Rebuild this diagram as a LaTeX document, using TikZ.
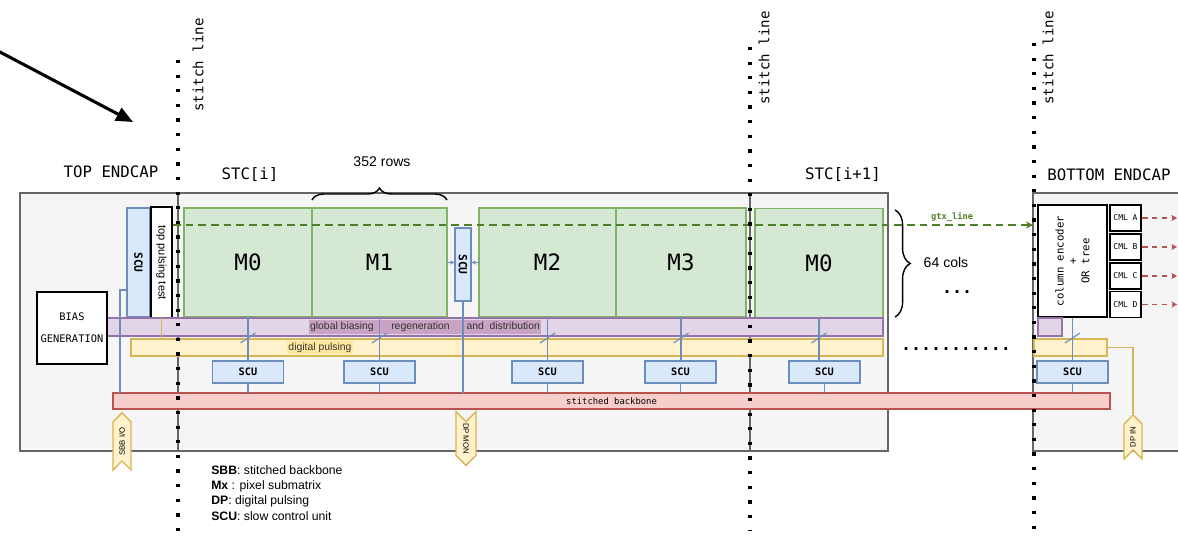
\documentclass[tikz,border=0pt]{standalone}
\usepackage{fontspec}
\setmainfont{Liberation Sans}
\setmonofont{DejaVu Sans Mono}
\usetikzlibrary{shapes,shapes.symbols,arrows.meta,positioning,calc,decorations.pathreplacing}

\definecolor{capfill}{HTML}{F5F5F5}
\definecolor{capline}{HTML}{666666}
\definecolor{mfill}{HTML}{D5E8D4}
\definecolor{mline}{HTML}{82B366}
\definecolor{scufill}{HTML}{DAE8FC}
\definecolor{sculine}{HTML}{6C8EBF}
\definecolor{biasfill}{HTML}{E1D5E7}
\definecolor{biasline}{HTML}{9673A6}
\definecolor{biashl}{HTML}{C9A3C3}
\definecolor{dpfill}{HTML}{FFF2CC}
\definecolor{dpline}{HTML}{D6B656}
\definecolor{dphl}{HTML}{FFE89E}
\definecolor{sbbfill}{HTML}{F8CECC}
\definecolor{sbbline}{HTML}{B85450}
\definecolor{gtxcol}{HTML}{4D8026}

\begin{document}
\begin{tikzpicture}[
    x=0.025cm, y=-0.025cm,
    sect/.style={rectangle, draw=capline, fill=capfill, line width=1pt, minimum height=6.45cm, inner sep=0, outer sep=0},
    caplbl/.style={font=\fontsize{11.2}{13}\selectfont\ttfamily, inner sep=0},
    stitch/.style={line width=2.3pt, dash pattern=on 2.3pt off 8.1pt},
    stitchlbl/.style={rotate=90, font=\fontsize{10}{12}\selectfont\ttfamily, inner sep=0},
    mtx/.style={rectangle, draw=mline, fill=mfill, line width=1pt, minimum height=2.725cm, inner sep=0, outer sep=0, font=\fontsize{16}{18}\selectfont\ttfamily},
    scuv/.style={rectangle, draw=sculine, fill=scufill, line width=1pt, rotate=-90, inner sep=0, font=\fontsize{8}{9}\selectfont\ttfamily\bfseries},
    scuh/.style={rectangle, draw=sculine, fill=scufill, line width=1pt, minimum width=1.775cm, minimum height=0.55cm, inner sep=0, font=\fontsize{7.3}{9}\selectfont\ttfamily\bfseries},
    blk/.style={rectangle, draw, fill=white, line width=1.4pt, inner sep=0},
    band/.style={rectangle, line width=1pt, inner sep=0, outer sep=0},
    sbbbar/.style={band, draw=sbbline, fill=sbbfill, font=\fontsize{6.3}{7}\selectfont\ttfamily},
    port/.style={signal, signal to=east, signal from=west, draw=dpline, fill=dpfill, line width=1pt, inner sep=1pt, font=\fontsize{5.5}{6}\selectfont},
    link/.style={draw=sculine, line width=0.8pt},
    dplink/.style={draw=dpline, line width=0.9pt},
    gtx/.style={draw=gtxcol, line width=1.1pt, dash pattern=on 5.5pt off 3.5pt, -{Stealth[length=5pt, width=5pt]}},
    cmlout/.style={draw=sbbline, line width=1pt, dash pattern=on 4pt off 3pt, -{Stealth[length=4pt, width=4.5pt]}},
    brc/.style={decorate, decoration={brace, amplitude=#1}, line width=1pt},
    sanslbl/.style={font=\fontsize{10}{12}\selectfont, inner sep=0},
    legendtxt/.style={font=\fontsize{8.7}{10.8}\selectfont, align=left, inner sep=0},
    pointer/.style={line width=2.2pt, -{Triangle[length=12pt, width=10pt]}}
]
    \useasboundingbox (0,0) rectangle (1178,543);

    % sections
    \node[sect, minimum width=3.95cm] (topcap) at (99,322) {};
    \node[sect, minimum width=14.3cm] (stci) at (464,322) {};
    \node[sect, minimum width=3.45cm] (stcj) at (819,322) {};
    \node[sect, minimum width=3.925cm] (botcap) at (1111.5,322) {};

    \node[caplbl] (topcaplbl) at (111,172) {TOP ENDCAP};
    \node[caplbl] (stcilbl) at (250,175) {STC[i]};
    \node[caplbl] (stcjlbl) at (843,175) {STC[i+1]};
    \node[caplbl] (botcaplbl) at (1109,175) {BOTTOM ENDCAP};

    % pixel submatrices
    \node[mtx, minimum width=3.2cm] (m0) at (248,262.5) {M0};
    \node[mtx, minimum width=3.375cm, right=0pt of m0] (m1) {M1};
    \node[mtx, minimum width=3.425cm] (m2) at (547.5,262.5) {M2};
    \node[mtx, minimum width=3.25cm, right=0pt of m2] (m3) {M3};
    \node[mtx, minimum width=3.2cm] (m0b) at (819,263) {M0};

    \node[scuv, minimum width=2.725cm, minimum height=0.575cm] (scul) at (138.5,262.5) {SCU};
    \node[blk, rotate=-90, minimum width=2.75cm, minimum height=0.525cm, font=\fontsize{7.9}{9}\selectfont] (tpt) at (161.5,262.5) {top pulsing test};
    \node[scuv, minimum width=1.825cm, minimum height=0.4cm] (scum) at (463,264.5) {SCU};

    % bands
    \node[band, draw=biasline, fill=biasfill, minimum width=19.4cm, minimum height=0.45cm] (glob) at (495,327) {};
    \node[fill=biashl, text=black!80, inner xsep=1pt, inner ysep=1.5pt, font=\fontsize{7.4}{9}\selectfont] (globlbl) at (425,327) {global biasing\hspace{12.5pt}regeneration\hspace{12pt}and\hspace{4pt}distribution};
    \node[band, draw=dpline, fill=dpfill, minimum width=18.8cm, minimum height=0.425cm] (dig) at (507,347.5) {};
    \node[fill=dphl, text=black!80, inner xsep=1pt, inner ysep=1.5pt, font=\fontsize{7.4}{9}\selectfont] (diglbl) at (320,347.5) {digital pulsing};

    \foreach \n/\x in {scua/248, scub/379.5, scuc/547.5, scud/680.5, scue/824.5}
        \node[scuh] (\n) at (\x,372) {SCU};

    \node[sbbbar, minimum width=24.925cm, minimum height=0.4cm] (sbb) at (611.5,401) {stitched backbone};

    \node[blk, minimum width=1.75cm, minimum height=1.8cm, align=center, font=\fontsize{7.4}{15.6}\selectfont\ttfamily] (bias) at (72,328) {BIAS\\GENERATION};

    % bottom endcap
    \node[blk, rotate=90, minimum width=2.8cm, minimum height=1.725cm, align=center, font=\fontsize{7.6}{9.2}\selectfont\ttfamily] (enc) at (1072.5,261) {column encoder\\+\\OR tree};
    \foreach \n/\l/\y in {cmla/A/218, cmlb/B/247, cmlc/C/276, cmld/D/304.5} {
        \node[blk, minimum width=0.775cm, minimum height=0.65cm, font=\fontsize{5.7}{6}\selectfont\ttfamily] (\n) at (1125.5,\y) {CML \l};
        \coordinate (\n out) at (1177,\y);
        \draw[cmlout] (\n.east) -- (\n out);
    }
    \node[band, draw=biasline, fill=biasfill, minimum width=0.6cm, minimum height=0.45cm] (eglob) at (1050,327) {};
    \node[band, draw=dpline, fill=dpfill, minimum width=1.825cm, minimum height=0.425cm] (edig) at (1070.5,347.5) {};
    \node[scuh] (escu) at (1072.5,372) {SCU};

    % ports
    \node[port, rotate=90, minimum width=1.425cm, minimum height=0.45cm] (sbbio) at (122,441.5) {SBB I/O};
    \node[port, rotate=-90, minimum width=1.175cm, minimum height=0.5cm] (dpmon) at (466,438.5) {DP MON};
    \node[port, rotate=90, minimum width=1.1cm, minimum height=0.45cm] (dpin) at (1133,437) {DP IN};

    % links
    \foreach \m/\a/\s in {m0/south/scua, m1/south/scub, m2/south/scuc, m3/south/scud, m0b/south/scue, enc/west/escu} {
        \draw[link] (\m.\a) -- (\m.\a |- \s.north);
        \draw[link] ($(\m.\a |- glob.south)+(-7.5,7)$) -- ++(15,-10);
        \draw[link] (\s.south) -- (\s.south |- sbb.north);
    }
    \draw[link] (scul.south |- 0,290) -| (sbb.north -| 120,0);
    \draw[link] (scum.east) -- (scum.east |- sbb.north);
    \draw[link, -{Stealth[length=3pt, width=3pt]}] (m1.east) -- (m1.east -| scum.south);
    \draw[link, -{Stealth[length=3pt, width=3pt]}] (m2.west) -- (m2.west -| scum.north);
    \draw[dplink] (tpt.east) -- (tpt.east |- dig.north);
    \draw[dplink] (edig.east) -| (dpin.east);

    \coordinate (gtxs) at (tpt.north |- 0,225);
    \draw[gtx] (gtxs) -- (gtxs -| botcap.west);
    \node[font=\fontsize{6.2}{7}\selectfont\ttfamily\bfseries, text=gtxcol, inner sep=0] (gtxlbl) at (952,217) {gtx\_line};

    % stitch lines
    \foreach \n/\sx/\sy/\ey/\lx/\ly in {a/178/60/543/198/65, b/750/47/530/764/58, c/1034/43/530/1048/58} {
        \draw[stitch] (\sx,\sy) -- (\sx,\ey);
        \node[stitchlbl] (stitch\n) at (\lx,\ly) {stitch line};
    }

    % braces
    \draw[brc=0.3cm] (312,200) -- (447,200);
    \node[sanslbl] (rowslbl) at (382,162) {352 rows};
    \draw[brc=0.38cm] (895,210) -- (895,317);
    \node[sanslbl] (colslbl) at (946,262) {64 cols};
    \node[font=\fontsize{11.8}{13}\selectfont\ttfamily\bfseries, inner sep=0] (moredots) at (957,292) {...};
    \node[font=\fontsize{11.8}{13}\selectfont\ttfamily\bfseries, inner sep=0] (stcdots) at (956,349) {...........};

    \node[legendtxt, anchor=west] (legend) at (211,493) {\textbf{SBB}: stitched backbone\\\textbf{Mx} : pixel submatrix\\\textbf{DP}: digital pulsing\\\textbf{SCU}: slow control unit};

    \coordinate (ptrs) at (-2,51);
    \coordinate (ptre) at (133,122);
    \draw[pointer] (ptrs) -- (ptre);
\end{tikzpicture}
\end{document}
